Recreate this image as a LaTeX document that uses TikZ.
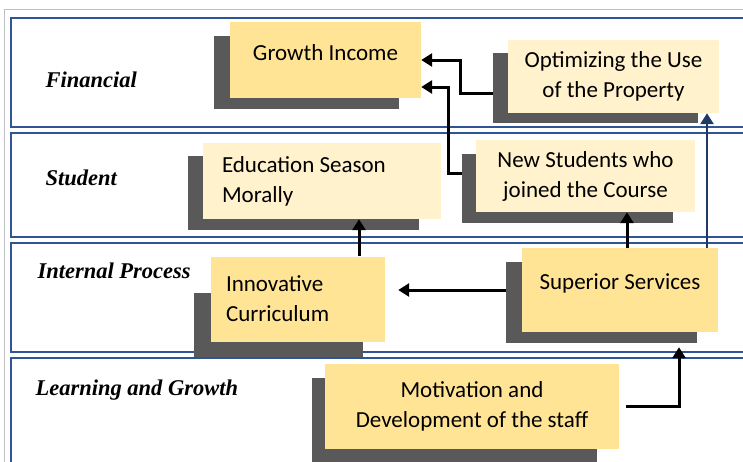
\documentclass[tikz,border=0pt]{standalone}
\usepackage{fontspec}
\setmainfont{Liberation Serif}
\newfontfamily\carlito{Carlito}
\usepackage{tikz}
\usetikzlibrary{positioning, arrows.meta}
\definecolor{boxgold}{RGB}{255, 228, 150}
\definecolor{boxcream}{RGB}{255, 242, 204}
\definecolor{shadegray}{RGB}{89, 89, 89}
\definecolor{bandblue}{RGB}{47, 85, 151}
\definecolor{navy}{RGB}{31, 56, 100}

\begin{document}
\begin{tikzpicture}[x=1pt, y=-1pt,
    band/.style={draw=bandblue, line width=1.2pt, fill=white},
    boxshadow/.style={fill=shadegray, inner sep=0pt},
    goal/.style={inner sep=0pt, font=\carlito\fontsize{23}{30}\selectfont, align=center},
    persp/.style={anchor=west, font=\fontsize{22.5}{26}\selectfont\bfseries\itshape},
    link/.style={line width=3pt, -{Triangle[length=11pt, width=13pt]}}]
      \useasboundingbox (0,0) rectangle (743,461);
      \clip (0,0) rectangle (743,461);
      % frame and the four perspectives
      \draw[gray!50, line width=1pt] (4,9) rectangle (770,480);
      \draw[band] (11,18) rectangle (770,127);
      \draw[band] (11,133) rectangle (770,237);
      \draw[band] (11,243) rectangle (770,352);
      \draw[band] (11,358) rectangle (770,480);
      \node[persp] (fin) at (42,80) {Financial};
      \node[persp] (stu) at (42,178) {Student};
      \node[persp] (ipr) at (34,271) {Internal Process};
      \node[persp] (lng) at (32,390) {Learning and Growth};
      % shadows
      \node[boxshadow, minimum width=185pt, minimum height=73pt] (growthsh) at (306.5,72.5) {};
      \node[boxshadow, minimum width=205pt, minimum height=70pt] (optsh) at (595.5,88) {};
      \node[boxshadow, minimum width=231pt, minimum height=74pt] (edush) at (303.5,193) {};
      \node[boxshadow, minimum width=211pt, minimum height=69pt] (newsh) at (567.5,188.5) {};
      \node[boxshadow, minimum width=169pt, minimum height=64pt] (innovsh) at (278.5,325) {};
      \node[boxshadow, minimum width=191pt, minimum height=81pt] (supsh) at (601.5,302.5) {};
      \node[boxshadow, minimum width=285pt, minimum height=97pt] (motivsh) at (454.5,426.5) {};
      % objectives
      \node[goal, fill=boxgold, minimum width=191pt, minimum height=76pt,
            text height=15pt, text depth=15pt] (growth) at (325.5,60) {Growth Income};
      \node[goal, fill=boxcream, minimum width=211pt, minimum height=73pt] (opt) at (613.5,76.5)
            {Optimizing the Use\\of the Property};
      \node[goal, fill=boxcream, minimum width=238pt, minimum height=76pt,
            text width=200pt, inner xsep=19pt, align=flush left] (edu) at (322,181)
            {Education Season\\Morally};
      \node[goal, fill=boxcream, minimum width=219pt, minimum height=72pt] (new) at (585.5,176)
            {New Students who\\joined the Course};
      \node[goal, fill=boxgold, minimum width=174pt, minimum height=85pt,
            text width=144pt, inner xsep=15pt, align=flush left] (innov) at (298,299)
            {Innovative\\Curriculum};
      \node[goal, fill=boxgold, minimum width=196pt, minimum height=84pt,
            text height=15pt, text depth=16pt] (sup) at (620,290) {Superior Services};
      \node[goal, fill=boxgold, minimum width=294pt, minimum height=85pt] (motiv) at (472,406.5)
            {Motivation and\\Development of the staff};
      % links
      \draw[link] ([yshift=-5pt]optsh.west) -- ++(-32,0) |- (growth.east);
      \draw[link] ([yshift=15.5pt]newsh.west) -- ++(-13,0) |- ([yshift=-27pt]growth.east);
      \draw[link] ([xshift=61pt]innov.north) -- ([xshift=61pt]innov.north |- edu.south);
      \draw[link] ([xshift=7pt]sup.north) -- ([xshift=7pt]sup.north |- new.south);
      \draw[link, shorten >=13pt] (supsh.west |- sup.west) -- (sup.west -| innov.east);
      \draw[link, navy, line width=2.5pt] ([xshift=87pt]sup.north) -- ([xshift=87pt]sup.north |- opt.south);
      \draw[link] ([xshift=7pt]motiv.east) -| ([xshift=77.5pt, yshift=-4pt]supsh.south);
    \end{tikzpicture}
\end{document}
